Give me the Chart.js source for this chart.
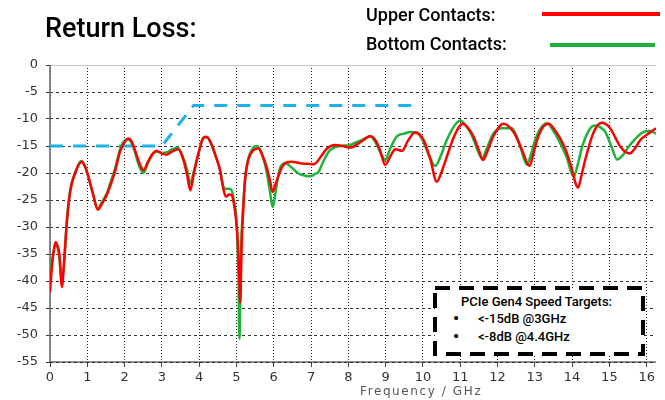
<!DOCTYPE html>
<html>
<head>
<meta charset="utf-8">
<script src="https://cdn.jsdelivr.net/npm/chart.js@4/dist/chart.umd.min.js"></script>
<style>
  html, body { margin: 0; padding: 0; background: #fff; }
  #wrap { position: relative; width: 665px; height: 400px; overflow: hidden; }
  #c { position: absolute; left: 0; top: 0; }
  .t { position: absolute; white-space: nowrap; font-family: Roboto, "Noto Sans", sans-serif; color: #000; }
  #title { left: 45px; top: 12px; font-size: 27px; font-weight: 500; }
  #lg1 { left: 366px; top: 4px; font-size: 18px; font-weight: 500; }
  #lg2 { left: 366px; top: 33px; font-size: 18px; font-weight: 500; }
  .sw { position: absolute; height: 4px; }
  #sw1 { left: 542px; top: 12px; width: 118px; background: #ff0000; }
  #sw2 { left: 550px; top: 43px; width: 105px; background: #1db33a; }
  #xt { left: 360px; top: 384px; font-family: "DejaVu Sans", Verdana, sans-serif; font-size: 12px; letter-spacing: 1.6px; color: #555; }
  #box { position: absolute; left: 431px; top: 284px; }
  #bt { left: 461px; top: 294px; font-size: 13px; font-weight: 500; }
  .bl { font-size: 13px; font-weight: 500; }
  .bu { font-size: 17px; font-weight: 700; }
  #b1 { left: 453px; top: 308px; }
  #b2 { left: 453px; top: 326px; }
  #l1 { left: 478px; top: 311px; }
  #l2 { left: 478px; top: 329px; }
</style>
</head>
<body>
<div id="wrap">
  <canvas id="c" width="665" height="400"></canvas>
  <div class="t" id="title">Return Loss:</div>
  <div class="t" id="lg1">Upper Contacts:</div>
  <div class="t" id="lg2">Bottom Contacts:</div>
  <div class="sw" id="sw1"></div>
  <div class="sw" id="sw2"></div>
  <div class="t" id="xt">Frequency / GHz</div>
  <svg id="box" width="216" height="74"><rect x="4" y="4" width="208" height="66" fill="#fff" stroke="#000" stroke-width="4" stroke-dasharray="15 9"/></svg>
  <div class="t" id="bt">PCIe Gen4 Speed Targets:</div>
  <div class="t bu" id="b1">•</div>
  <div class="t bu" id="b2">•</div>
  <div class="t bl" id="l1">&lt;-15dB @3GHz</div>
  <div class="t bl" id="l2">&lt;-8dB @4.4GHz</div>
</div>
<script>
// ---- data (frequency in GHz, return loss in dB) ----
const upperFreq = [0.00,0.05,0.09,0.15,0.20,0.25,0.32,0.38,0.45,0.54,0.67,0.85,0.95,1.03,1.15,1.28,1.40,1.52,1.62,1.74,1.88,2.00,2.10,2.20,2.28,2.40,2.51,2.62,2.75,2.86,3.00,3.13,3.28,3.44,3.58,3.68,3.76,3.86,3.98,4.11,4.20,4.32,4.45,4.56,4.65,4.72,4.80,4.87,4.95,5.02,5.07,5.10,5.14,5.18,5.23,5.32,5.45,5.59,5.70,5.81,5.90,5.97,6.05,6.22,6.35,6.48,6.71,6.90,7.07,7.29,7.42,7.65,7.85,8.05,8.30,8.59,8.75,8.85,8.99,9.12,9.26,9.44,9.60,9.79,10.02,10.20,10.37,10.50,10.64,10.85,11.07,11.20,11.36,11.50,11.61,11.75,11.89,12.16,12.43,12.55,12.66,12.86,12.96,13.06,13.20,13.37,13.52,13.68,13.82,13.95,14.16,14.25,14.35,14.58,14.80,15.02,15.15,15.29,15.54,15.70,15.83,16.05,16.25];
const upperDb = [-42.0,-37.5,-34.9,-32.8,-33.5,-35.0,-41.1,-36.2,-29.3,-23.5,-20.1,-17.9,-19.0,-20.7,-23.8,-26.8,-25.6,-24.1,-22.3,-19.8,-16.0,-14.3,-13.6,-14.3,-15.8,-18.2,-19.5,-18.0,-16.5,-15.9,-16.4,-16.6,-16.0,-15.6,-17.6,-20.5,-23.2,-20.0,-16.4,-13.5,-13.3,-14.5,-17.0,-19.5,-23.0,-24.4,-24.0,-24.1,-26.5,-31.0,-38.0,-44.0,-33.0,-27.0,-21.3,-17.5,-15.8,-15.4,-16.8,-18.9,-21.5,-23.5,-22.0,-18.9,-18.0,-17.9,-18.2,-18.3,-18.4,-16.7,-15.5,-14.8,-15.0,-15.3,-14.4,-13.2,-14.2,-15.8,-18.5,-17.0,-15.6,-15.9,-14.0,-12.5,-13.9,-17.5,-21.6,-19.8,-17.0,-13.0,-10.9,-11.6,-13.3,-15.8,-17.6,-15.6,-13.2,-10.9,-12.4,-14.0,-15.8,-18.7,-16.5,-13.9,-11.7,-10.9,-11.9,-13.6,-15.6,-18.2,-22.7,-20.5,-17.6,-12.4,-10.7,-11.7,-13.3,-15.1,-16.4,-15.3,-13.9,-12.7,-11.7];

const bottomFreq = [0.00,0.05,0.09,0.15,0.20,0.25,0.31,0.38,0.45,0.54,0.67,0.85,0.95,1.03,1.15,1.28,1.40,1.52,1.62,1.74,1.88,2.00,2.10,2.20,2.28,2.40,2.51,2.62,2.75,2.86,3.00,3.13,3.28,3.42,3.55,3.68,3.76,3.86,3.98,4.11,4.20,4.32,4.45,4.56,4.63,4.70,4.80,4.87,4.95,5.00,5.05,5.08,5.12,5.18,5.25,5.33,5.45,5.55,5.68,5.80,5.90,5.97,6.05,6.15,6.31,6.48,6.66,6.85,6.98,7.10,7.20,7.32,7.47,7.62,7.78,8.05,8.18,8.40,8.59,8.75,8.88,8.99,9.12,9.30,9.50,9.66,9.84,9.98,10.15,10.33,10.48,10.64,10.82,11.00,11.15,11.31,11.45,11.58,11.72,11.89,12.12,12.39,12.50,12.61,12.79,12.90,13.01,13.15,13.33,13.48,13.64,13.85,14.04,14.15,14.27,14.49,14.62,14.75,14.89,15.05,15.21,15.35,15.52,15.72,15.92,16.08,16.25];
const bottomDb = [-38.1,-36.5,-35.0,-33.0,-33.7,-35.5,-40.0,-36.5,-29.0,-23.2,-20.0,-17.8,-19.0,-20.7,-23.8,-26.6,-25.3,-23.8,-21.8,-19.3,-15.6,-14.0,-13.8,-14.6,-16.2,-18.9,-20.0,-18.3,-16.5,-16.0,-16.3,-16.2,-15.6,-15.3,-16.8,-19.5,-22.0,-19.6,-16.4,-13.6,-13.4,-14.6,-17.0,-19.5,-22.0,-22.9,-22.9,-23.2,-26.0,-29.0,-38.0,-50.7,-35.0,-26.0,-20.0,-17.0,-15.3,-15.0,-16.5,-19.5,-23.5,-26.3,-23.5,-19.5,-18.2,-19.0,-20.1,-20.5,-20.6,-20.2,-19.8,-18.0,-16.1,-15.3,-15.0,-14.8,-14.4,-13.8,-13.2,-14.6,-16.5,-17.6,-15.5,-13.2,-12.7,-12.4,-12.5,-13.8,-16.5,-18.7,-16.8,-13.9,-11.5,-10.3,-11.2,-13.0,-15.5,-17.3,-15.3,-12.7,-11.7,-11.7,-13.0,-15.1,-18.5,-16.5,-13.9,-11.8,-10.8,-12.0,-13.9,-17.0,-20.7,-18.5,-15.1,-11.7,-11.2,-11.5,-12.4,-15.0,-17.5,-16.8,-15.1,-13.5,-12.4,-12.2,-12.7];

const maskFreq = [0, 3, 3.85, 9.85];
const maskDb = [-15, -15, -7.5, -7.5];

const xTicks = [0,1,2,3,4,5,6,7,8,9,10,11,12,13,14,15,16];
const yTicks = [0,-5,-10,-15,-20,-25,-30,-35,-40,-45,-50,-55];

const toXY = (fs, vs) => fs.map((f, i) => ({x: f, y: vs[i]}));

const axisLines = {
  id: 'axisLines',
  beforeDatasetsDraw(chart) {
    const {ctx, chartArea: a} = chart;
    ctx.save();
    ctx.setLineDash([]);
    ctx.lineWidth = 1;
    ctx.strokeStyle = '#c8c8c8';
    ctx.beginPath(); ctx.moveTo(a.left, a.top + 0.5); ctx.lineTo(a.right, a.top + 0.5); ctx.stroke();
    ctx.lineWidth = 1.5;
    ctx.strokeStyle = '#666';
    ctx.beginPath(); ctx.moveTo(a.left, a.top); ctx.lineTo(a.left, a.bottom); ctx.stroke();
    ctx.strokeStyle = '#222';
    ctx.lineWidth = 1.2;
    ctx.beginPath(); ctx.moveTo(a.left, a.bottom); ctx.lineTo(a.right, a.bottom); ctx.stroke();
    ctx.restore();
  }
};

new Chart(document.getElementById('c'), {
  type: 'line',
  data: {
    datasets: [
      { label: 'Upper Contacts', data: toXY(upperFreq, upperDb), borderColor: '#ff0000', borderWidth: 2.5, pointRadius: 0, cubicInterpolationMode: 'monotone', fill: false },
      { label: 'Bottom Contacts', data: toXY(bottomFreq, bottomDb), borderColor: '#1db33a', borderWidth: 2.5, pointRadius: 0, cubicInterpolationMode: 'monotone', fill: false },
      { label: 'PCIe Gen4 mask', data: toXY(maskFreq, maskDb), borderColor: '#1eb0e8', borderWidth: 3, borderDash: [13, 10], pointRadius: 0, tension: 0, fill: false }
    ]
  },
  options: {
    responsive: false,
    animation: false,
    events: [],
    layout: { padding: { top: 65, right: 9, left: 0, bottom: 0 } },
    plugins: { legend: { display: false }, tooltip: { enabled: false }, title: { display: false } },
    scales: {
      x: {
        type: 'linear', min: 0, max: 16.25,
        afterFit: s => { s.height = 38; },
        afterBuildTicks: s => { s.ticks = xTicks.map(v => ({value: v})); },
        ticks: { includeBounds: false, padding: 3, color: '#333', font: { family: 'DejaVu Sans', size: 13 }, maxRotation: 0 },
        grid: { color: '#222', lineWidth: 1, drawTicks: true, tickLength: 5, tickColor: '#444' },
        border: { display: false, dash: [1, 2] }
      },
      y: {
        type: 'linear', min: -55, max: 0,
        afterFit: s => { s.width = 50; },
        afterBuildTicks: s => { s.ticks = yTicks.map(v => ({value: v})); },
        ticks: { padding: 8, color: '#333', font: { family: 'DejaVu Sans', size: 13 } },
        grid: { color: c => c.tick && c.tick.value === 0 ? 'rgba(0,0,0,0)' : '#333', lineWidth: 1, drawTicks: true, tickLength: 4, tickColor: '#333' },
        border: { display: false, dash: [3, 3] }
      }
    }
  },
  plugins: [axisLines]
});
</script>
</body>
</html>
